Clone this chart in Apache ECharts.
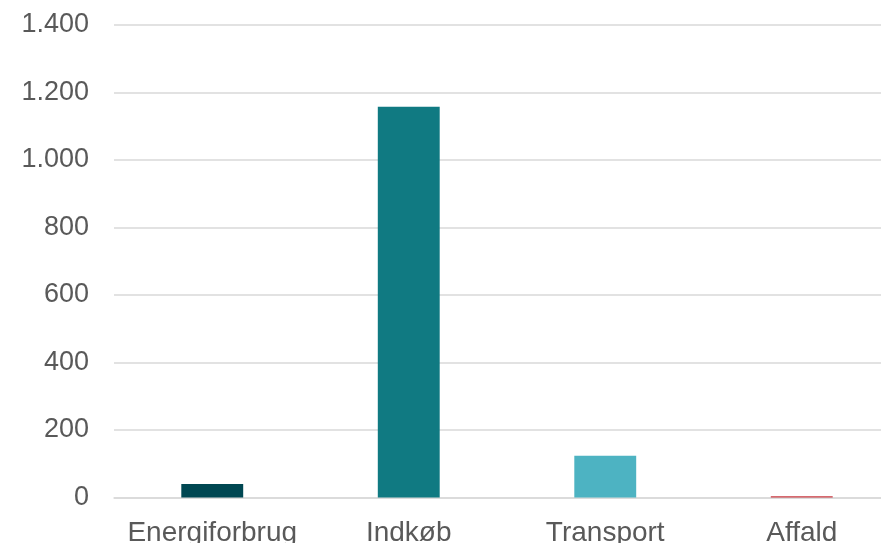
<!DOCTYPE html>
<html>
<head>
<meta charset="utf-8">
<script src="https://cdn.jsdelivr.net/npm/echarts@6/dist/echarts.min.js"></script>
<style>
html,body{margin:0;padding:0;background:#fff;}
#main{width:881px;height:543px;}
</style>
</head>
<body>
<div id="main"></div>
<script>
var categories = ['Energiforbrug', 'Indkøb', 'Transport', 'Affald'];
var values = [40, 1158, 124, 4];
var barColors = ['#004752', '#107a82', '#4db3c2', '#c8373f'];
var yTicks = { min: 0, max: 1400, interval: 200 };

var chart = echarts.init(document.getElementById('main'), null, { renderer: 'canvas' });
chart.setOption({
  animation: false,
  backgroundColor: '#ffffff',
  grid: { left: 114, top: 25, width: 786, height: 472.5, containLabel: false, outerBoundsMode: 'none' },
  xAxis: {
    type: 'category',
    data: categories,
    axisLine: { show: true, lineStyle: { color: '#d9d9d9', width: 1.5 } },
    axisTick: { show: false },
    axisLabel: { interval: 0, hideOverlap: false, color: '#595959', fontSize: 28, fontFamily: 'Liberation Sans, Arial, sans-serif', margin: 22 }
  },
  yAxis: {
    type: 'value',
    min: yTicks.min,
    max: yTicks.max,
    interval: yTicks.interval,
    axisLine: { show: false },
    axisTick: { show: false },
    splitLine: { lineStyle: { color: '#d9d9d9', width: 1.5 } },
    axisLabel: {
      color: '#595959', fontSize: 27, fontFamily: 'Liberation Sans, Arial, sans-serif', margin: 25,
      formatter: function (v) { return String(v).replace(/\B(?=(\d{3})+(?!\d))/g, '.'); }
    }
  },
  series: [{
    type: 'bar',
    data: values.map(function (v, i) { return { value: v, itemStyle: { color: barColors[i] } }; }),
    barWidth: '31.5%'
  }]
});
</script>
</body>
</html>
